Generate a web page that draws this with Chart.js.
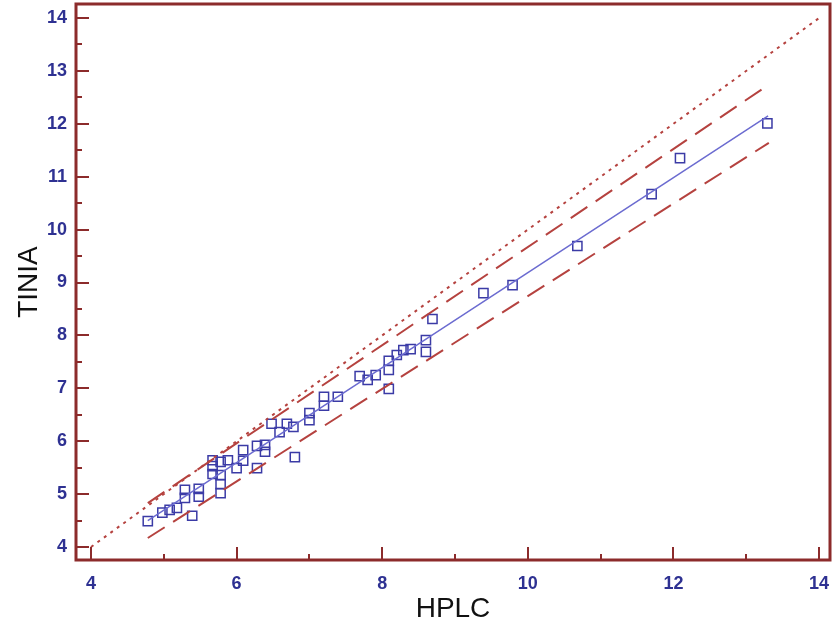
<!DOCTYPE html>
<html>
<head>
<meta charset="utf-8">
<script src="https://cdn.jsdelivr.net/npm/chart.js@4/dist/chart.umd.min.js"></script>
<style>
  html, body { margin: 0; padding: 0; background: #ffffff; overflow: hidden; }
  #wrap { width: 832px; height: 630px; position: relative; overflow: hidden; }
  #c { position: absolute; left: 0px; top: -4px; }
</style>
</head>
<body>
<div id="wrap"><canvas id="c" width="838" height="634"></canvas></div>
<script>
// ---- data ----
const hplc = [4.78, 4.98, 5.08, 5.18, 5.29, 5.29, 5.39, 5.48, 5.48, 5.67, 5.67, 5.67, 5.78, 5.78, 5.78, 5.78, 5.88, 6.00, 6.09, 6.09, 6.28, 6.28, 6.39, 6.39, 6.48, 6.59, 6.69, 6.78, 6.80, 7.00, 7.00, 7.20, 7.20, 7.39, 7.69, 7.80, 7.91, 8.09, 8.09, 8.09, 8.20, 8.29, 8.39, 8.60, 8.60, 8.69, 9.39, 9.79, 10.68, 11.70, 12.09, 13.29];
const tinia = [4.49, 4.65, 4.70, 4.74, 4.93, 5.08, 4.59, 4.95, 5.10, 5.38, 5.53, 5.64, 5.02, 5.19, 5.36, 5.61, 5.64, 5.49, 5.63, 5.83, 5.49, 5.91, 5.80, 5.93, 6.33, 6.17, 6.33, 6.27, 5.70, 6.40, 6.53, 6.67, 6.84, 6.84, 7.23, 7.16, 7.25, 6.99, 7.35, 7.52, 7.63, 7.72, 7.74, 7.69, 7.91, 8.31, 8.80, 8.95, 9.69, 10.67, 11.35, 12.01];
const fitX = [4.78, 13.30];
const fitY = [4.50, 12.15];
const upperX = [4.78, 13.31];
const upperY = [4.83, 12.74];
const lowerX = [4.78, 13.31];
const lowerY = [4.17, 11.64];
const identityX = [4, 14];
const identityY = [4, 14];
const xTicks = [4, 6, 8, 10, 12, 14];
const yTicks = [4, 5, 6, 7, 8, 9, 10, 11, 12, 13, 14];
const xMinorTicks = [5, 7, 9, 11, 13];
const yMinorTicks = [4.5, 5.5, 6.5, 7.5, 8.5, 9.5, 10.5, 11.5, 12.5, 13.5];

const pts = (xs, ys) => xs.map((x, i) => ({ x: x, y: ys[i] }));

const FRAME = '#8c2b2b';
const RED = '#b5423f';
const BLUE_LBL = '#2e3192';

const framePlugin = {
  id: 'frameTicks',
  afterDatasetsDraw(chart) {
    const { ctx, chartArea: a, scales } = chart;
    ctx.save();
    ctx.strokeStyle = FRAME;
    ctx.lineCap = 'butt';
    ctx.lineWidth = 2;
    const tick = (v, len, axis) => {
      ctx.beginPath();
      if (axis === 'y') {
        const py = Math.round(scales.y.getPixelForValue(v));
        ctx.moveTo(a.left, py); ctx.lineTo(a.left + len, py);
      } else {
        const px = Math.round(scales.x.getPixelForValue(v));
        ctx.moveTo(px, a.bottom); ctx.lineTo(px, a.bottom - len);
      }
      ctx.stroke();
    };
    yTicks.forEach(v => tick(v, 13, 'y'));
    yMinorTicks.forEach(v => tick(v, 6, 'y'));
    xTicks.forEach(v => tick(v, 13, 'x'));
    xMinorTicks.forEach(v => tick(v, 6, 'x'));
    ctx.lineWidth = 3;
    ctx.strokeRect(a.left, a.top, a.right - a.left, a.bottom - a.top);
    ctx.restore();
  }
};

new Chart(document.getElementById('c'), {
  type: 'scatter',
  data: {
    datasets: [
      {
        label: 'identity',
        data: pts(identityX, identityY),
        showLine: true,
        borderColor: RED,
        borderWidth: 2,
        borderDash: [3, 5],
        pointRadius: 0,
        fill: false
      },
      {
        label: 'upper',
        data: pts(upperX, upperY),
        showLine: true,
        borderColor: RED,
        borderWidth: 2,
        borderDash: [20, 10],
        pointRadius: 0,
        fill: false
      },
      {
        label: 'lower',
        data: pts(lowerX, lowerY),
        showLine: true,
        borderColor: RED,
        borderWidth: 2,
        borderDash: [20, 10],
        pointRadius: 0,
        fill: false
      },
      {
        label: 'fit',
        data: pts(fitX, fitY),
        showLine: true,
        borderColor: '#6b6bd0',
        borderWidth: 1.5,
        pointRadius: 0,
        fill: false
      },
      {
        label: 'points',
        data: pts(hplc, tinia),
        showLine: false,
        pointStyle: 'rect',
        pointRadius: 6.5,
        pointHoverRadius: 6.5,
        pointBorderWidth: 1.5,
        pointBorderColor: '#3b3ba6',
        pointBackgroundColor: 'rgba(255,255,255,0)'
      }
    ]
  },
  options: {
    responsive: false,
    animation: false,
    events: [],
    layout: { padding: { top: 0, right: 0, left: 0, bottom: 0 } },
    plugins: { legend: { display: false }, tooltip: { enabled: false } },
    scales: {
      x: {
        type: 'linear',
        min: 3.794,
        max: 14.15,
        grid: { display: false, drawTicks: false },
        border: { display: false },
        afterBuildTicks: s => { s.ticks = xTicks.map(v => ({ value: v })); },
        afterFit: s => { s.height = 70; s.paddingLeft = 0; s.paddingRight = 0; },
        ticks: {
          color: BLUE_LBL,
          font: { family: 'Liberation Sans, Arial, sans-serif', size: 18, weight: 'bold' },
          padding: 13,
          maxRotation: 0,
          autoSkip: false
        },
        title: {
          display: true,
          text: 'HPLC',
          color: '#111111',
          font: { family: 'Liberation Sans, Arial, sans-serif', size: 28 },
          padding: { top: 4, bottom: 4 }
        }
      },
      y: {
        type: 'linear',
        min: 3.754,
        max: 14.265,
        grid: { display: false, drawTicks: false },
        border: { display: false },
        afterBuildTicks: s => { s.ticks = yTicks.map(v => ({ value: v })); },
        afterFit: s => { s.width = 76; s.paddingTop = 0; s.paddingBottom = 0; },
        ticks: {
          color: BLUE_LBL,
          font: { family: 'Liberation Sans, Arial, sans-serif', size: 18, weight: 'bold' },
          padding: 9,
          autoSkip: false
        },
        title: {
          display: true,
          text: 'TINIA',
          color: '#111111',
          font: { family: 'Liberation Sans, Arial, sans-serif', size: 28 },
          padding: { top: 12, bottom: 4 }
        }
      }
    }
  },
  plugins: [framePlugin]
});
</script>
</body>
</html>
